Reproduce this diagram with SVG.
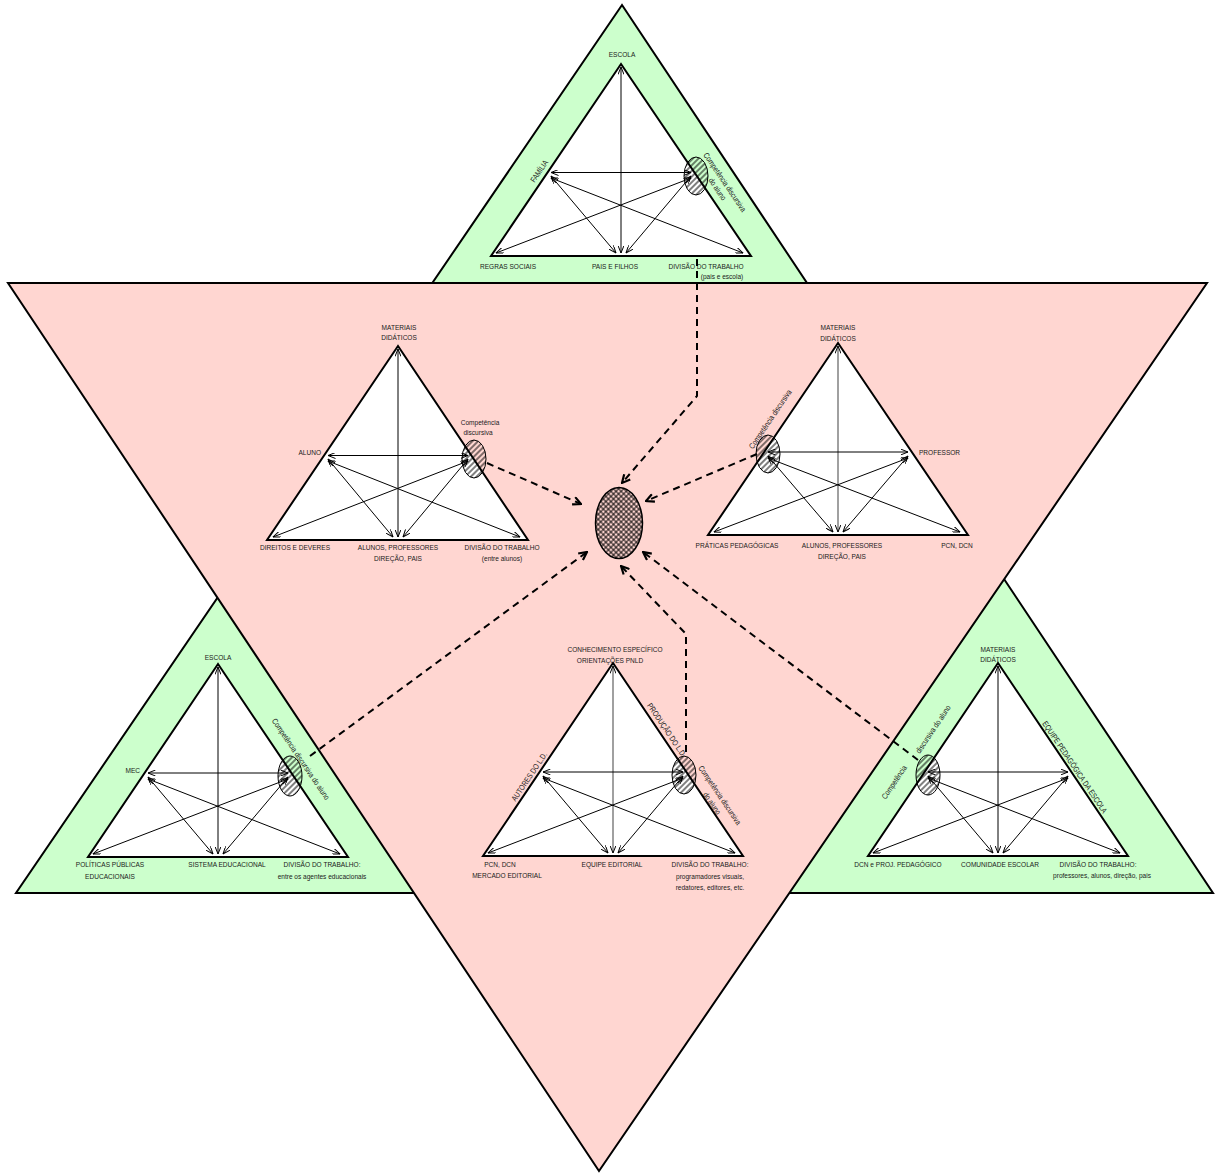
<svg xmlns="http://www.w3.org/2000/svg" width="1223" height="1173" viewBox="0 0 1223 1173">
<style>
text{font-family:"Liberation Sans",Arial,sans-serif;font-size:8px;fill:#1a1a1a;text-anchor:middle}
.tri{fill:#fff;stroke:#000;stroke-width:2;stroke-linejoin:miter}
.arr{fill:none;stroke:#000;stroke-width:1;marker-start:url(#ah);marker-end:url(#ah)}
.arr.g{stroke:#808080;stroke-width:1.5}
.hel{fill:url(#hatch);stroke:#000;stroke-width:1}
.con{fill:none;stroke:#000;stroke-width:2;stroke-dasharray:7 5;marker-end:url(#dh)}
.st{text-anchor:start}.en{text-anchor:end}
</style>
<defs>
<marker id="ah" viewBox="0 0 8 6" refX="7.5" refY="3" markerWidth="8" markerHeight="6" markerUnits="userSpaceOnUse" orient="auto-start-reverse"><path d="M0,0 L7.5,3 L0,6" fill="none" stroke="#000" stroke-width="1"/></marker>
<marker id="dh" viewBox="0 0 10 10" refX="9" refY="5" markerWidth="10" markerHeight="10" markerUnits="userSpaceOnUse" orient="auto"><path d="M1,1 L9,5 L1,9" fill="none" stroke="#000" stroke-width="2.2"/></marker>
<pattern id="hatch" width="4" height="4" patternUnits="userSpaceOnUse" patternTransform="rotate(45)"><line x1="2" y1="0" x2="2" y2="4" stroke="#000" stroke-width="1"/></pattern>
<pattern id="xhatch" width="3.6" height="3.6" patternUnits="userSpaceOnUse" patternTransform="rotate(45)"><path d="M0,1.8 H3.6 M1.8,0 V3.6" stroke="#000" stroke-width="0.9"/></pattern>
</defs>

<g id="background">
<polygon points="622,5 16,893 1213,893" fill="#CCFFCC" stroke="#000" stroke-width="2"/>
<polygon points="8,283 1207,283 599,1171" fill="#FFD6D1" stroke="#000" stroke-width="2"/>
</g>

<g id="node-familia">
<polygon class="tri" points="621,64 491,256 751,256"/>
<path class="arr" d="M621,67 V253"/>
<path class="arr" d="M551,172.5 H691"/>
<path class="arr" d="M551,176 L616,253"/>
<path class="arr" d="M691,176 L626,253"/>
<path class="arr" d="M551,178 L743,253"/>
<path class="arr" d="M691,178 L496,253"/>
<ellipse class="hel" cx="696" cy="176" rx="12" ry="19"/>
<text transform="translate(622,57) scale(0.82,1)">ESCOLA</text>
<text transform="translate(539,171) rotate(-55.5) scale(0.82,1)" y="3">FAMÍLIA</text>
<text transform="translate(725,182) rotate(56) scale(0.82,1)"><tspan x="0" y="3">Competência discursiva</tspan><tspan x="2" y="13">do aluno</tspan></text>
<text transform="translate(508,268.5) scale(0.82,1)">REGRAS SOCIAIS</text>
<text transform="translate(615,268.5) scale(0.82,1)">PAIS E FILHOS</text>
<text transform="translate(706,268.5) scale(0.82,1)">DIVISÃO DO TRABALHO</text>
<text transform="translate(722,279) scale(0.82,1)">(pais e escola)</text>
</g>

<g id="node-aluno">
<polygon class="tri" points="398,346 267,540 528,540"/>
<path class="arr" d="M398,349 V537"/>
<path class="arr" d="M328,455.5 H468"/>
<path class="arr" d="M328,459 L393,537"/>
<path class="arr" d="M468,459 L403,537"/>
<path class="arr" d="M328,461 L520,537"/>
<path class="arr" d="M468,461 L273,537"/>
<ellipse class="hel" cx="474" cy="459" rx="12" ry="19"/>
<text transform="translate(399,329.5) scale(0.82,1)">MATERIAIS</text>
<text transform="translate(399,340) scale(0.82,1)">DIDÁTICOS</text>
<text transform="translate(480,424.5) scale(0.82,1)">Competência</text>
<text transform="translate(478,434.5) scale(0.82,1)">discursiva</text>
<text class="en" transform="translate(321,454.5) scale(0.82,1)">ALUNO</text>
<text transform="translate(295,550) scale(0.82,1)">DIREITOS E DEVERES</text>
<text transform="translate(398,550) scale(0.82,1)">ALUNOS, PROFESSORES</text>
<text transform="translate(398,561) scale(0.82,1)">DIREÇÃO, PAIS</text>
<text transform="translate(502,550) scale(0.82,1)">DIVISÃO DO TRABALHO</text>
<text transform="translate(502,561) scale(0.82,1)">(entre alunos)</text>
</g>

<g id="node-professor">
<polygon class="tri" points="838,343 708,535 968,535"/>
<path class="arr g" d="M838,346 V532"/>
<path class="arr" d="M768,452 H908"/>
<path class="arr" d="M768,456 L833,532"/>
<path class="arr" d="M908,456 L843,532"/>
<path class="arr" d="M768,458 L960,532"/>
<path class="arr" d="M908,458 L714,532"/>
<ellipse class="hel" cx="768" cy="454" rx="12" ry="19"/>
<text transform="translate(838,330) scale(0.82,1)">MATERIAIS</text>
<text transform="translate(838,341) scale(0.82,1)">DIDÁTICOS</text>
<text transform="translate(770,419) rotate(-56) scale(0.82,1)" y="3">Competência discursiva</text>
<text class="st" transform="translate(919,454.5) scale(0.82,1)">PROFESSOR</text>
<text transform="translate(737,548) scale(0.82,1)">PRÁTICAS PEDAGÓGICAS</text>
<text transform="translate(842,548) scale(0.82,1)">ALUNOS, PROFESSORES</text>
<text transform="translate(842,558.5) scale(0.82,1)">DIREÇÃO, PAIS</text>
<text transform="translate(957,548) scale(0.82,1)">PCN, DCN</text>
</g>

<g id="node-mec">
<polygon class="tri" points="218,664 88,857 348,857"/>
<path class="arr" d="M218,667 V854"/>
<path class="arr" d="M148,773 H288"/>
<path class="arr" d="M148,777 L213,854"/>
<path class="arr" d="M288,777 L223,854"/>
<path class="arr" d="M148,779 L340,854"/>
<path class="arr" d="M288,779 L93,854"/>
<ellipse class="hel" cx="290" cy="776" rx="12" ry="20"/>
<text transform="translate(218,659.5) scale(0.82,1)">ESCOLA</text>
<text class="en" transform="translate(140,773) scale(0.82,1)">MEC</text>
<text transform="translate(301,759) rotate(56) scale(0.82,1)" y="3">Competência discursiva do aluno</text>
<text transform="translate(110,867) scale(0.82,1)">POLÍTICAS PÚBLICAS</text>
<text transform="translate(110,878.5) scale(0.82,1)">EDUCACIONAIS</text>
<text transform="translate(227,867) scale(0.82,1)">SISTEMA EDUCACIONAL</text>
<text transform="translate(322,867) scale(0.82,1)">DIVISÃO DO TRABALHO:</text>
<text transform="translate(322,878.5) scale(0.82,1)">entre os agentes educacionais</text>
</g>

<g id="node-editorial">
<polygon class="tri" points="613,663 483,856 743,856"/>
<path class="arr g" d="M613,666 V853"/>
<path class="arr" d="M543,772 H683"/>
<path class="arr" d="M543,776 L608,853"/>
<path class="arr" d="M683,776 L618,853"/>
<path class="arr" d="M543,778 L735,853"/>
<path class="arr" d="M683,778 L488,853"/>
<ellipse class="hel" cx="684" cy="775" rx="12" ry="19"/>
<text transform="translate(615,652) scale(0.82,1)">CONHECIMENTO ESPECÍFICO</text>
<text transform="translate(610,662.5) scale(0.82,1)">ORIENTAÇÕES PNLD</text>
<text transform="translate(667,730) rotate(56) scale(0.82,1)" y="3">PRODUÇÃO DO L.D.</text>
<text transform="translate(529,776.5) rotate(-56) scale(0.82,1)" y="3">AUTORES DO L.D.</text>
<text transform="translate(720,795) rotate(56) scale(0.82,1)"><tspan x="0" y="3">Competência discursiva</tspan><tspan x="3" y="14">do aluno</tspan></text>
<text transform="translate(500,867) scale(0.82,1)">PCN, DCN</text>
<text transform="translate(507,878) scale(0.82,1)">MERCADO EDITORIAL</text>
<text transform="translate(612,867) scale(0.82,1)">EQUIPE EDITORIAL</text>
<text transform="translate(710,867) scale(0.82,1)">DIVISÃO DO TRABALHO:</text>
<text transform="translate(710,878.5) scale(0.82,1)">programadores visuais,</text>
<text transform="translate(710,889.5) scale(0.82,1)">redatores, editores, etc.</text>
</g>

<g id="node-escola">
<polygon class="tri" points="998,663 868,856 1128,856"/>
<path class="arr" d="M998,666 V853"/>
<path class="arr" d="M928,772 H1068"/>
<path class="arr" d="M928,776 L993,853"/>
<path class="arr" d="M1068,776 L1003,853"/>
<path class="arr" d="M928,778 L1120,853"/>
<path class="arr" d="M1068,778 L873,853"/>
<ellipse class="hel" cx="928" cy="775" rx="12" ry="20"/>
<text transform="translate(998,652) scale(0.82,1)">MATERIAIS</text>
<text transform="translate(998,662) scale(0.82,1)">DIDÁTICOS</text>
<text transform="translate(894,782) rotate(-56) scale(0.82,1)" y="3">Competência</text>
<text transform="translate(933,729) rotate(-56) scale(0.82,1)" y="3">discursiva do aluno</text>
<text transform="translate(1075,767) rotate(56) scale(0.82,1)" y="3">EQUIPE PEDAGÓGICA DA ESCOLA</text>
<text transform="translate(898,867) scale(0.82,1)">DCN e PROJ. PEDAGÓGICO</text>
<text transform="translate(1000,867) scale(0.82,1)">COMUNIDADE ESCOLAR</text>
<text transform="translate(1098,867) scale(0.82,1)">DIVISÃO DO TRABALHO:</text>
<text transform="translate(1102,878) scale(0.82,1)">professores, alunos, direção, pais</text>
</g>

<g id="node-centro">
<ellipse cx="619" cy="523" rx="23.5" ry="35.5" fill="url(#xhatch)" stroke="#000" stroke-width="1.5"/>
</g>

<g id="connectors">
<path class="con" d="M697,259 V396 L622,483"/>
<path class="con" d="M487,463 L581,504"/>
<path class="con" d="M757,454 L646,501"/>
<path class="con" d="M310,756 L587,552"/>
<path class="con" d="M686,752 V634 L621,566"/>
<path class="con" d="M918,760 L643,552"/>
</g>
</svg>
